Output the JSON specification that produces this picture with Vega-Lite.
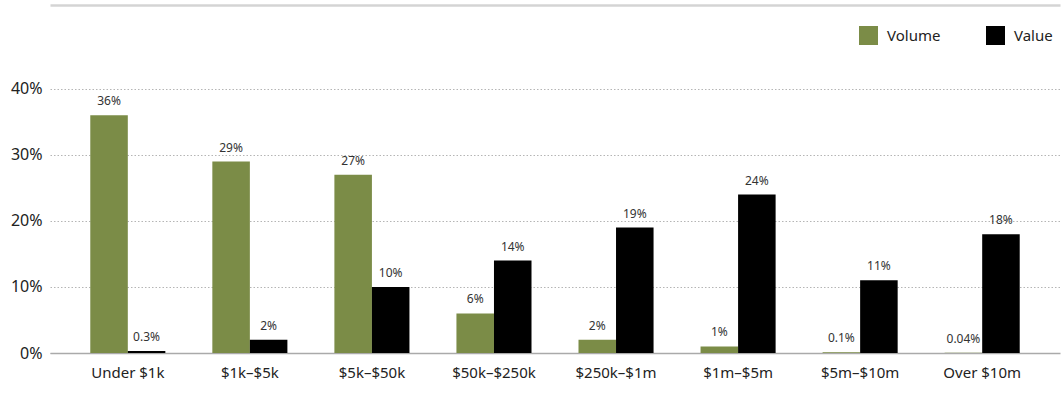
{
  "$schema": "https://vega.github.io/schema/vega-lite/v6.json",
  "width": 1010,
  "height": 348,
  "autosize": {"type": "none"},
  "padding": {"left": 50, "top": 5, "right": 3, "bottom": 67},
  "config": {"view": {"stroke": null}, "font": "Noto Sans"},
  "data": {
    "values": [
      {"cat": "Under $1k", "series": "Volume", "val": 36, "label": "36%"},
      {"cat": "Under $1k", "series": "Value", "val": 0.3, "label": "0.3%"},
      {"cat": "$1k–$5k", "series": "Volume", "val": 29, "label": "29%"},
      {"cat": "$1k–$5k", "series": "Value", "val": 2, "label": "2%"},
      {"cat": "$5k–$50k", "series": "Volume", "val": 27, "label": "27%"},
      {"cat": "$5k–$50k", "series": "Value", "val": 10, "label": "10%"},
      {"cat": "$50k–$250k", "series": "Volume", "val": 6, "label": "6%"},
      {"cat": "$50k–$250k", "series": "Value", "val": 14, "label": "14%"},
      {"cat": "$250k–$1m", "series": "Volume", "val": 2, "label": "2%"},
      {"cat": "$250k–$1m", "series": "Value", "val": 19, "label": "19%"},
      {"cat": "$1m–$5m", "series": "Volume", "val": 1, "label": "1%"},
      {"cat": "$1m–$5m", "series": "Value", "val": 24, "label": "24%"},
      {"cat": "$5m–$10m", "series": "Volume", "val": 0.1, "label": "0.1%"},
      {"cat": "$5m–$10m", "series": "Value", "val": 11, "label": "11%"},
      {"cat": "Over $10m", "series": "Volume", "val": 0.04, "label": "0.04%"},
      {"cat": "Over $10m", "series": "Value", "val": 18, "label": "18%"}
    ]
  },
  "resolve": {"axis": {"x": "independent"}},
  "layer": [
    {
      "mark": {"type": "bar"},
      "encoding": {
        "x": {
          "field": "cat", "type": "nominal", "sort": null,
          "scale": {"paddingInner": 0.385, "paddingOuter": 0.33},
          "axis": {"orient": "bottom", "title": null, "labelAngle": 0, "domainColor": "#aaaaaa", "domainWidth": 1.5, "ticks": false, "labelFontSize": 15, "labelPadding": 12, "labelColor": "#222222"}
        },
        "xOffset": {"field": "series", "sort": ["Volume", "Value"], "scale": {"paddingInner": 0, "paddingOuter": 0}},
        "y": {
          "field": "val", "type": "quantitative",
          "scale": {"domain": [0, 52.7], "nice": false},
          "axis": {"values": [0, 10, 20, 30, 40], "labelExpr": "datum.value + '%'", "title": null, "domain": false, "ticks": false, "grid": true, "gridDash": [1.5, 2], "gridColor": "#b5b5b5", "labelFontSize": 16, "labelPadding": 8, "labelColor": "#222222"}
        },
        "color": {
          "field": "series", "type": "nominal",
          "scale": {"domain": ["Volume", "Value"], "range": ["#7b8c47", "#000000"]},
          "legend": {"title": null, "orient": "none", "legendX": 809, "legendY": 21, "direction": "horizontal", "symbolType": "square", "symbolSize": 361, "symbolStrokeWidth": 0, "labelFontSize": 15, "labelOffset": 9, "columnPadding": 45, "padding": 0, "labelColor": "#222222"}
        }
      }
    },
    {
      "mark": {"type": "text", "dy": -7, "baseline": "bottom", "fontSize": 12, "color": "#333333"},
      "encoding": {
        "x": {
          "field": "cat", "type": "nominal", "sort": null,
          "axis": {"orient": "top", "title": null, "labels": false, "ticks": false, "grid": false, "domainColor": "#d4d4d4", "domainWidth": 2.5}
        },
        "xOffset": {"field": "series", "sort": ["Volume", "Value"]},
        "y": {"field": "val", "type": "quantitative"},
        "text": {"field": "label"}
      }
    }
  ]
}
